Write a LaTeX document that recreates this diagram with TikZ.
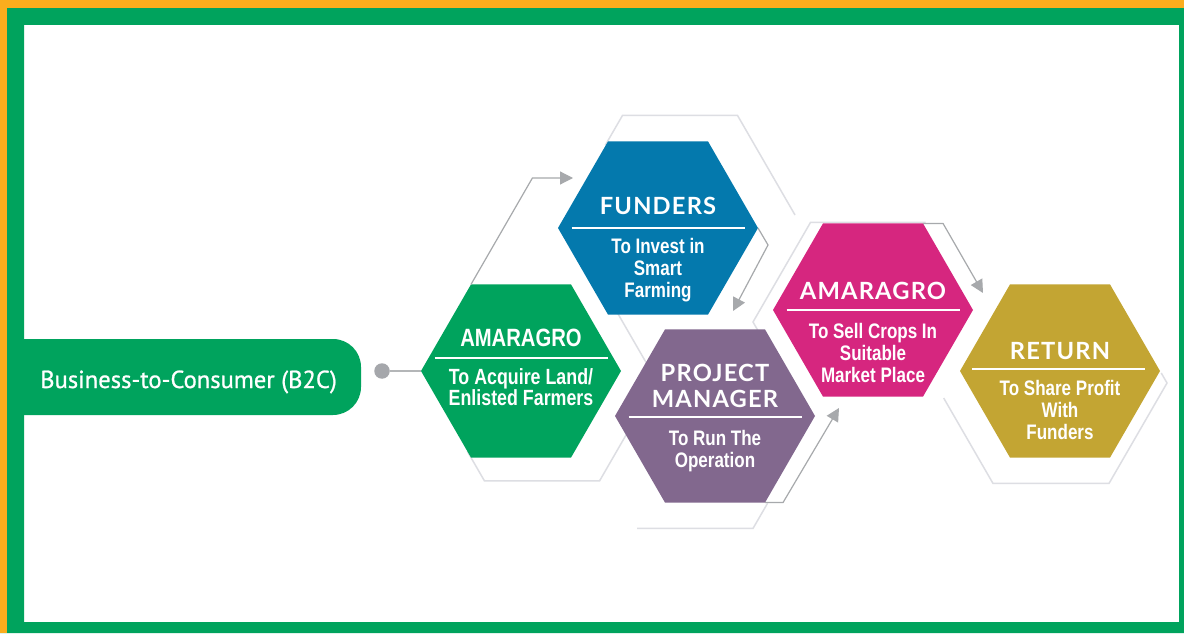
\documentclass[tikz,border=0pt]{standalone}
\usepackage{fontspec}
\setmainfont{Liberation Sans}
\newfontfamily\titlefont[LetterSpace=5]{Lato}
\newfontfamily\condfont[FakeStretch=0.81]{Liberation Sans}
\newfontfamily\pillfont[FakeBold=0.9]{PT Sans}
\usetikzlibrary{shapes.geometric,arrows.meta,calc}
\definecolor{bordergreen}{HTML}{00A35D}
\definecolor{borderorange}{HTML}{FBAD1D}
\definecolor{hexblue}{HTML}{0479AD}
\definecolor{hexgreen}{HTML}{00A35D}
\definecolor{hexpurple}{HTML}{82688E}
\definecolor{hexpink}{HTML}{D6267F}
\definecolor{hexgold}{HTML}{C3A533}
\definecolor{arrowgray}{HTML}{A7A9AC}
\definecolor{dotgray}{HTML}{A5A7AB}
\definecolor{outlinegray}{HTML}{DDDEE3}
\begin{document}
\begin{tikzpicture}[x=1pt,y=1pt,
  hexa/.style={regular polygon, regular polygon sides=6, minimum size=200pt, inner sep=0pt, outer sep=0pt},
  hexghost/.style={regular polygon, regular polygon sides=6, minimum size=#1, inner sep=0pt, outer sep=0pt},
  outl/.style={draw=outlinegray, line width=1.5pt, line join=miter},
  arr/.style={draw=arrowgray, line width=1.2pt, -{Triangle[length=13pt,width=13pt]}},
  ttl/.style={text=white, inner sep=0pt, anchor=base, font=\titlefont\bfseries\fontsize{23.7}{26}\selectfont},
  ttlc/.style={text=white, inner sep=0pt, anchor=base, font=\condfont\bfseries\fontsize{25}{28}\selectfont},
  sub/.style={text=white, inner sep=0pt, align=center, anchor=north, font=\condfont\bfseries\fontsize{21}{22}\selectfont},
  rulew/.style={draw=white, line width=1.6pt}]
\useasboundingbox (0,0) rectangle (1184,633);
\fill[white] (0,0) rectangle (1184,633);
% pill
\node[fill=bordergreen, rounded corners=28pt, minimum width=367pt, minimum height=76pt, inner sep=0pt] (b2c) at (177.5,256) {};
\node[anchor=base west, inner sep=0pt, text=white, font=\pillfont\fontsize{24.6}{28}\selectfont] (b2ct) at (40,245) {Business-to-Consumer (B2C)};
% border frame
\fill[bordergreen, even odd rule] (0,0) rectangle (1184,633) (24,11) rectangle (1179,608);
\fill[borderorange] (0,0) rectangle (7,633);
\fill[borderorange] (0,625) rectangle (1184,633);
% ghost outline hexagons
\node[hexghost=230pt] (fo) at (680,418) {};
\node[hexghost=230pt] (ge) at (542,251.6) {};
\node[hexghost=232pt] (po) at (695,205) {};
\node[hexghost=230pt] (ko) at (868,311) {};
\node[hexghost=232pt] (go) at (1051,250) {};
\draw[outl] ($(fo.120)!0.3!(fo.180)$) -- (fo.120) -- (fo.60) -- (fo.0);
\draw[outl] (ge.60) -- (ge.0) -- (ge.300) -- (ge.240) -- ($(ge.240)!0.3!(ge.180)$);
\draw[outl] (po.240) -- (po.300) -- ($(po.300)!0.25!(po.0)$);
\draw[outl] ($(ko.180)!0.08!(ko.240)$) -- (ko.180) -- (ko.120) -- (ko.60);
\draw[outl] ($(go.180)!0.15!(go.240)$) -- (go.240) -- (go.300) -- (go.0) -- ($(go.0)!0.1!(go.60)$);
% hexagons
\node[hexa, fill=hexblue] (b) at (658,405) {};
\node[hexa, fill=hexgreen] (g) at (521,262) {};
\node[hexa, fill=hexpurple] (p) at (715,217) {};
\node[hexa, fill=hexpink] (k) at (873,323) {};
\node[hexa, fill=hexgold] (r) at (1060,262) {};
% FUNDERS
\node[ttl] (bt) at (658,418) {FUNDERS};
\draw[rulew] ($(b.center)+(-86.5,0)$) -- ($(b.center)+(86.5,0)$);
\node[sub] (bs) at (658,395) {To Invest in\\Smart\\Farming};
% AMARAGRO green
\node[ttlc] (gt) at (521,287) {AMARAGRO};
\draw[rulew] ($(g.center)+(-86.5,13)$) -- ($(g.center)+(86.5,13)$);
\node[sub, font=\condfont\bfseries\fontsize{22}{21}\selectfont] (gs) at (521,265) {To Acquire Land/\\Enlisted Farmers};
% PROJECT MANAGER
\node[ttl] (pt1) at (715,252) {PROJECT};
\node[ttl] (pt2) at (715,226) {MANAGER};
\draw[rulew] ($(p.center)+(-86.5,-1)$) -- ($(p.center)+(86.5,-1)$);
\node[sub] (ps) at (715,203) {To Run The\\Operation};
% AMARAGRO pink
\node[ttl] (kt) at (873,333) {AMARAGRO};
\draw[rulew] ($(k.center)+(-86.5,0)$) -- ($(k.center)+(86.5,0)$);
\node[sub] (ks) at (873,310) {To Sell Crops In\\Suitable\\Market Place};
% RETURN
\node[ttl] (rt) at (1060,274) {RETURN};
\draw[rulew] ($(r.center)+(-88,2)$) -- ($(r.center)+(85,2)$);
\node[sub] (rs) at (1060,253) {To Share Profit\\With\\Funders};
% connectors
\node[circle, fill=dotgray, minimum size=15.5pt, inner sep=0pt] (dot) at (382,262) {};
\draw[draw=arrowgray!85, line width=1.5pt] (dot) -- (g.180);
\coordinate (a1m) at (532.4,455);
\coordinate (a1e) at (573,455);
\draw[arr] (g.120) -- (a1m) -- (a1e);
\coordinate (a2m) at (768,388);
\coordinate (a2e) at (733,322);
\draw[arr] (b.0) -- (a2m) -- (a2e);
\coordinate (a3m) at ($(p.300)+(18,0)$);
\coordinate (a3e) at (839,225);
\draw[arr] (p.300) -- (a3m) -- (a3e);
\coordinate (a4m) at ($(k.60)+(20,0)$);
\coordinate (a4e) at (983,340);
\draw[arr] (k.60) -- (a4m) -- (a4e);
\end{tikzpicture}
\end{document}
